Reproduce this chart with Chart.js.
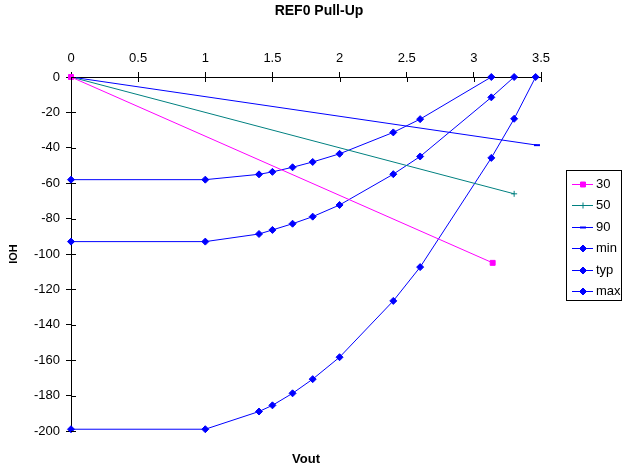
<!DOCTYPE html>
<html lang="en">
<head>
<meta charset="UTF-8">
<title>REF0 Pull-Up</title>
<style>
  body { margin: 0; background: #fff; }
  #chart { display: block; }
</style>
<script src="https://cdn.jsdelivr.net/npm/chart.js"></script>
</head>
<body>
<canvas id="chart" width="626" height="470"></canvas>
<script>
  // values
  const chartTitle = 'REF0 Pull-Up';
  const seriesNames = ['30', '50', '90', 'min', 'typ', 'max'];

  const vout30 = [0, 3.14];
  const ioh30 = [0, -105];
  const vout50 = [0, 3.3];
  const ioh50 = [0, -66];
  const vout90 = [0, 3.47];
  const ioh90 = [0, -38.5];

  const voutCurve = [0, 1, 1.4, 1.5, 1.65, 1.8, 2, 2.4, 2.6, 3.13, 3.3, 3.46];
  const iohMin = [-58, -58, -55, -53.6, -51, -48, -43.4, -31.3, -23.8, 0];
  const iohTyp = [-93, -93, -88.7, -86.4, -82.9, -78.9, -72.3, -54.9, -44.9, -11.5, 0];
  const iohMax = [-199, -199, -189, -185.5, -178.7, -170.7, -158.3, -126.5, -107.4, -45.7, -23.6, 0];

  const xTicks = [0, 0.5, 1, 1.5, 2, 2.5, 3, 3.5];

  function pts(xs, ys) {
    return ys.map((y, i) => ({ x: xs[i], y: y }));
  }

  function series(label, data, color, style, radius) {
    return {
      label: label,
      data: data,
      showLine: true,
      borderColor: color,
      backgroundColor: color,
      borderWidth: 1,
      pointStyle: style,
      pointRadius: radius,
      pointHoverRadius: radius,
      pointBorderWidth: style === 'line' ? 2 : 1,
      pointBackgroundColor: color,
      pointBorderColor: color,
      clip: false
    };
  }

  const datasets = [
    series(seriesNames[0], pts(vout30, ioh30), '#ff00ff', 'rect', 3.5),
    series(seriesNames[1], pts(vout50, ioh50), '#008080', 'cross', 3),
    series(seriesNames[2], pts(vout90, ioh90), '#0000ff', 'line', 3),
    series(seriesNames[3], pts(voutCurve, iohMin), '#0000ff', 'rectRot', 3.5),
    series(seriesNames[4], pts(voutCurve, iohTyp), '#0000ff', 'rectRot', 3.5),
    series(seriesNames[5], pts(voutCurve, iohMax), '#0000ff', 'rectRot', 3.5)
  ];

  // ticks in the reference cross the axis line, chart.js only draws the outer half
  const innerTicks = {
    id: 'innerTicks',
    afterDraw(chart) {
      const ctx = chart.ctx;
      const area = chart.chartArea;
      const xs = chart.scales.x;
      const ys = chart.scales.y;
      ctx.save();
      ctx.strokeStyle = '#000';
      ctx.lineWidth = 1;
      ctx.beginPath();
      xs.ticks.forEach(t => {
        const px = Math.round(xs.getPixelForValue(t.value)) + 0.5;
        ctx.moveTo(px, area.top);
        ctx.lineTo(px, area.top + 5);
      });
      ys.ticks.forEach(t => {
        const py = Math.round(ys.getPixelForValue(t.value)) + 0.5;
        ctx.moveTo(area.left, py);
        ctx.lineTo(area.left + 5, py);
      });
      ctx.stroke();
      ctx.restore();
    }
  };

  const titleAndLegend = {
    id: 'titleAndLegend',
    afterDraw(chart) {
      const ctx = chart.ctx;
      ctx.save();
      ctx.fillStyle = '#000';
      ctx.font = 'bold 14px Arial';
      ctx.textAlign = 'center';
      ctx.textBaseline = 'middle';
      ctx.fillText(chartTitle, 319, 11);

      // boxed legend
      ctx.strokeStyle = '#000';
      ctx.lineWidth = 1;
      ctx.strokeRect(566.5, 170.5, 55, 130);
      ctx.font = '13px Arial';
      ctx.textAlign = 'left';
      chart.data.datasets.forEach((ds, i) => {
        const y = Math.round(183.5 + i * 21.5) + 0.5;
        ctx.strokeStyle = ds.borderColor;
        ctx.lineWidth = ds.borderWidth;
        ctx.beginPath();
        ctx.moveTo(572, y);
        ctx.lineTo(593, y);
        ctx.stroke();
        ctx.fillStyle = ds.pointBackgroundColor;
        ctx.lineWidth = ds.pointBorderWidth;
        Chart.helpers.drawPoint(ctx, {
          pointStyle: ds.pointStyle,
          radius: ds.pointRadius,
          rotation: 0,
          borderWidth: ds.pointBorderWidth
        }, 583, y);
        ctx.fillStyle = '#000';
        ctx.fillText(ds.label, 596, y);
      });
      ctx.restore();
    }
  };

  const tickFont = { family: 'Arial', size: 13 };

  new Chart(document.getElementById('chart'), {
    type: 'scatter',
    data: { datasets: datasets },
    options: {
      responsive: false,
      animation: false,
      devicePixelRatio: 1,
      layout: { padding: { left: 1, right: 85, top: 0, bottom: 0 } },
      plugins: {
        legend: { display: false },
        tooltip: { enabled: false },
        title: { display: false }
      },
      scales: {
        x: {
          type: 'linear',
          position: 'top',
          min: 0,
          max: 3.5,
          afterBuildTicks: s => { s.ticks = xTicks.map(v => ({ value: v })); },
          afterFit: s => { s.height = 77; },
          ticks: {
            color: '#000',
            font: tickFont,
            padding: 6,
            maxRotation: 0,
            autoSkip: false,
            callback: v => String(v)
          },
          grid: { drawOnChartArea: false, drawTicks: true, tickLength: 5, color: '#000' },
          border: { color: '#000', width: 1 }
        },
        x2: {
          type: 'linear',
          position: 'bottom',
          min: 0,
          max: 3.5,
          afterFit: s => { s.height = 39; },
          ticks: { display: false },
          grid: { display: false },
          border: { display: false },
          title: {
            display: true,
            text: 'Vout',
            color: '#000',
            font: { family: 'Arial', size: 13, weight: 'bold' },
            padding: { top: 3, bottom: 3 }
          }
        },
        y: {
          type: 'linear',
          min: -200,
          max: 0,
          afterFit: s => { s.width = 70; },
          ticks: { stepSize: 20, color: '#000', font: tickFont, padding: 6 },
          grid: { drawOnChartArea: false, drawTicks: true, tickLength: 5, color: '#000' },
          border: { color: '#000', width: 1 },
          title: {
            display: true,
            text: 'IOH',
            color: '#000',
            font: { family: 'Arial', size: 11, weight: 'bold' },
            padding: { top: 6, bottom: 0 }
          }
        }
      }
    },
    plugins: [innerTicks, titleAndLegend]
  });
</script>
</body>
</html>
